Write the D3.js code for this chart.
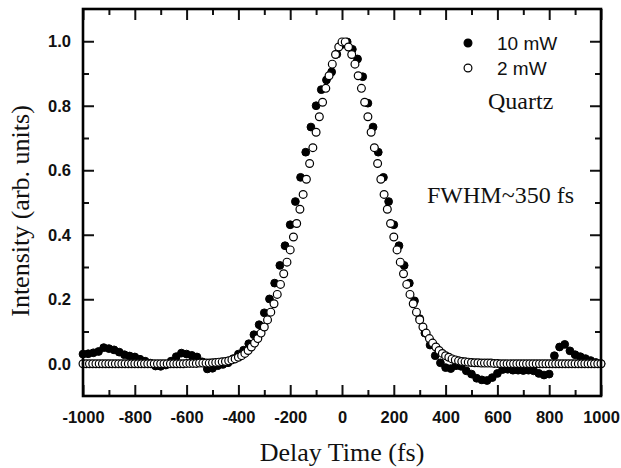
<!doctype html>
<html lang="en">
<head>
<meta charset="utf-8">
<title>Autocorrelation - Quartz</title>
<script src="https://d3js.org/d3.v7.min.js"></script>
<style>
  body { margin: 0; background: #fff; }
  .tick text { font-family: "Liberation Sans", Arial, sans-serif; font-weight: bold; font-size: 16.5px; fill: #111; }
  .tick line { stroke: #111; stroke-width: 2; }
  .domain { display: none; }
</style>
</head>
<body>
<div id="main"></div>
<script>
// delay (fs) and normalised intensity, 2 mW scan
const delay2mW = [
  -1000,-987.5,-975,-962.5,-950,-937.5,-925,-912.5,
  -900,-887.5,-875,-862.5,-850,-837.5,-825,-812.5,
  -800,-787.5,-775,-762.5,-750,-737.5,-725,-712.5,
  -700,-687.5,-675,-662.5,-650,-637.5,-625,-612.5,
  -600,-587.5,-575,-562.5,-550,-537.5,-525,-512.5,
  -500,-487.5,-475,-462.5,-450,-437.5,-425,-412.5,
  -400,-387.5,-375,-362.5,-350,-337.5,-325,-312.5,
  -300,-287.5,-275,-262.5,-250,-237.5,-225,-212.5,
  -200,-187.5,-175,-162.5,-150,-137.5,-125,-112.5,
  -100,-87.5,-75,-62.5,-50,-37.5,-25,-12.5,
  0,12.5,25,37.5,50,62.5,75,87.5,
  100,112.5,125,137.5,150,162.5,175,187.5,
  200,212.5,225,237.5,250,262.5,275,287.5,
  300,312.5,325,337.5,350,362.5,375,387.5,
  400,412.5,425,437.5,450,462.5,475,487.5,
  500,512.5,525,537.5,550,562.5,575,587.5,
  600,612.5,625,637.5,650,662.5,675,687.5,
  700,712.5,725,737.5,750,762.5,775,787.5,
  800,812.5,825,837.5,850,862.5,875,887.5,
  900,912.5,925,937.5,950,962.5,975,987.5,
  1000
]
const int2mW = [
  0,0,0,0,0,0,0,0,
  0,0,0,0,0,0,0,0,
  0,0,0,0,0,0,0,0,
  0,0,0,0,0,0,0,0,
  0.001,0.001,0.001,0.001,0.002,0.002,0.002,0.002,
  0.003,0.004,0.005,0.006,0.007,0.009,0.012,0.015,
  0.020,0.025,0.032,0.041,0.052,0.064,0.078,0.095,
  0.114,0.136,0.160,0.186,0.215,0.246,0.279,0.315,
  0.353,0.393,0.435,0.479,0.525,0.572,0.621,0.670,
  0.718,0.766,0.811,0.854,0.893,0.929,0.959,0.982,
  0.998,0.998,0.982,0.959,0.929,0.893,0.854,0.811,
  0.766,0.718,0.670,0.621,0.572,0.525,0.479,0.435,
  0.393,0.353,0.315,0.279,0.246,0.215,0.186,0.160,
  0.136,0.114,0.095,0.078,0.064,0.052,0.041,0.032,
  0.025,0.020,0.015,0.012,0.009,0.007,0.006,0.005,
  0.004,0.003,0.003,0.002,0.002,0.002,0.002,0.001,
  0.001,0,0,0,0,0,0,0,
  0,0,0,0,0,0,0,0,
  0,0,0,0,0,0,0,0,
  0,0,0,0,0,0,0,0,
  0
]

// 10 mW scan
const delay10mW = [
  -1000,-980,-960,-940,-920,-900,-880,-860,-840,-820,
  -800,-780,-760,-740,-720,-700,-680,-660,-640,-620,
  -600,-580,-560,-540,-520,-500,-480,-460,-440,-420,
  -400,-380,-360,-340,-320,-300,-280,-260,-240,-220,
  -200,-180,-160,-140,-120,-100,-80,-60,-40,-20,
  0,20,40,60,80,100,120,140,160,180,
  200,220,240,260,280,300,320,340,360,380,
  400,420,440,460,480,500,520,540,560,580,
  600,620,640,660,680,700,720,740,760,780,
  800,820,840,860,880,900,920,940,960,980,
  1000
]
const int10mW = [
  0.030,0.031,0.034,0.038,0.050,0.047,0.043,0.036,0.028,0.024,
  0.021,0.014,0.008,0.002,-0.007,-0.008,-0.004,0.008,0.022,0.033,
  0.030,0.026,0.021,0.006,-0.016,-0.014,-0.006,-0.002,0.003,0.016,
  0.030,0.042,0.062,0.090,0.121,0.158,0.201,0.250,0.305,0.366,
  0.431,0.503,0.578,0.656,0.734,0.800,0.850,0.880,0.905,0.960,
  0.990,0.998,0.975,0.945,0.890,0.808,0.734,0.656,0.578,0.503,
  0.431,0.366,0.305,0.250,0.195,0.140,0.095,0.058,0.025,0.003,
  -0.012,-0.015,-0.006,-0.008,-0.022,-0.032,-0.045,-0.050,-0.052,-0.043,
  -0.030,-0.018,-0.017,-0.020,-0.020,-0.021,-0.020,-0.022,-0.030,-0.035,
  -0.032,0.025,0.052,0.060,0.040,0.028,0.022,0.016,0.010,0.004,
  0.000
]

const xTicks = [-1000, -800, -600, -400, -200, 0, 200, 400, 600, 800, 1000]
const xMinor = [-900, -700, -500, -300, -100, 100, 300, 500, 700, 900]
const yTicks = [0.0, 0.2, 0.4, 0.6, 0.8, 1.0]
const yMinor = [0.1, 0.3, 0.5, 0.7, 0.9]
const seriesNames = ['10 mW', '2 mW']
const xTitle = 'Delay Time (fs)'
const yTitle = 'Intensity (arb. units)'
const sampleNote = 'Quartz'
const fwhmNote = 'FWHM~350 fs'

const W = 621, H = 468
const margin = {top: 9, right: 20, bottom: 72, left: 83}
const R = 3.9

const x = d3.scaleLinear().domain([-1000, 1000]).range([margin.left, W - margin.right])
const y = d3.scaleLinear().domain([-0.1, 1.1]).range([H - margin.bottom, margin.top])

const svg = d3.select('#main').append('svg')
              .attr('width', W).attr('height', H)
              .style('display', 'block')

const x0 = x.range()[0], x1 = x.range()[1]
const y0 = y.range()[0], y1 = y.range()[1]

// axes, ticks pointing inward on every side
const fmtX = d => String(d)
const fmtY = d3.format('.1f')

svg.append('g').attr('transform', `translate(0,${y0})`)
   .call(d3.axisBottom(x).tickValues(xTicks).tickSize(-11).tickSizeOuter(0).tickPadding(15).tickFormat(fmtX))
svg.append('g').attr('transform', `translate(0,${y0})`)
   .call(d3.axisBottom(x).tickValues(xMinor).tickSize(-6).tickSizeOuter(0).tickFormat(''))
svg.append('g').attr('transform', `translate(0,${y1})`)
   .call(d3.axisTop(x).tickValues(xTicks).tickSize(-11).tickSizeOuter(0).tickFormat(''))
svg.append('g').attr('transform', `translate(0,${y1})`)
   .call(d3.axisTop(x).tickValues(xMinor).tickSize(-6).tickSizeOuter(0).tickFormat(''))

svg.append('g').attr('transform', `translate(${x0},0)`)
   .call(d3.axisLeft(y).tickValues(yTicks).tickSize(-11).tickSizeOuter(0).tickPadding(12).tickFormat(fmtY))
svg.append('g').attr('transform', `translate(${x0},0)`)
   .call(d3.axisLeft(y).tickValues(yMinor).tickSize(-6).tickSizeOuter(0).tickFormat(''))
svg.append('g').attr('transform', `translate(${x1},0)`)
   .call(d3.axisRight(y).tickValues(yTicks).tickSize(-11).tickSizeOuter(0).tickFormat(''))
svg.append('g').attr('transform', `translate(${x1},0)`)
   .call(d3.axisRight(y).tickValues(yMinor).tickSize(-6).tickSizeOuter(0).tickFormat(''))

// data: 10 mW filled underneath, 2 mW open on top
const pts10 = delay10mW.map((d, i) => ({t: d, v: int10mW[i]}))
const pts2 = delay2mW.map((d, i) => ({t: d, v: int2mW[i]}))

svg.append('g').selectAll('circle').data(pts10).enter().append('circle')
   .attr('cx', d => x(d.t)).attr('cy', d => y(d.v)).attr('r', R)
   .attr('fill', '#000').attr('stroke', '#000').attr('stroke-width', 1)

svg.append('g').selectAll('circle').data(pts2).enter().append('circle')
   .attr('cx', d => x(d.t)).attr('cy', d => y(d.v)).attr('r', R)
   .attr('fill', '#fff').attr('stroke', '#000').attr('stroke-width', 1.2)

// frame
svg.append('rect')
   .attr('x', x0).attr('y', y1).attr('width', x1 - x0).attr('height', y0 - y1)
   .attr('fill', 'none').attr('stroke', '#000').attr('stroke-width', 2.6)

// legend
const legend = svg.append('g').attr('transform', 'translate(468,43)')
legend.selectAll('circle').data(seriesNames).enter().append('circle')
      .attr('cx', 0).attr('cy', (d, i) => i * 25).attr('r', R)
      .attr('fill', (d, i) => i === 0 ? '#000' : '#fff')
      .attr('stroke', '#000').attr('stroke-width', 1.2)
legend.selectAll('text').data(seriesNames).enter().append('text')
      .attr('x', 29).attr('y', (d, i) => i * 25 + 7)
      .style('font-family', '"Liberation Sans", Arial, sans-serif')
      .style('font-size', '19px').attr('fill', '#111')
      .text(d => d)

const serif = '"Liberation Serif", "Times New Roman", serif'

svg.append('text').attr('x', 488).attr('y', 109)
   .style('font-family', serif).style('font-size', '24px').attr('fill', '#111')
   .text(sampleNote)

svg.append('text').attr('x', 427).attr('y', 203)
   .style('font-family', serif).style('font-size', '24px').attr('fill', '#111')
   .text(fwhmNote)

svg.append('text').attr('x', (x0 + x1) / 2).attr('y', 461)
   .attr('text-anchor', 'middle')
   .style('font-family', serif).style('font-size', '26px').attr('fill', '#111')
   .text(xTitle)

svg.append('text').attr('transform', 'translate(29,211) rotate(-90)')
   .attr('text-anchor', 'middle')
   .style('font-family', serif).style('font-size', '26px').attr('fill', '#111')
   .text(yTitle)
</script>
</body>
</html>
